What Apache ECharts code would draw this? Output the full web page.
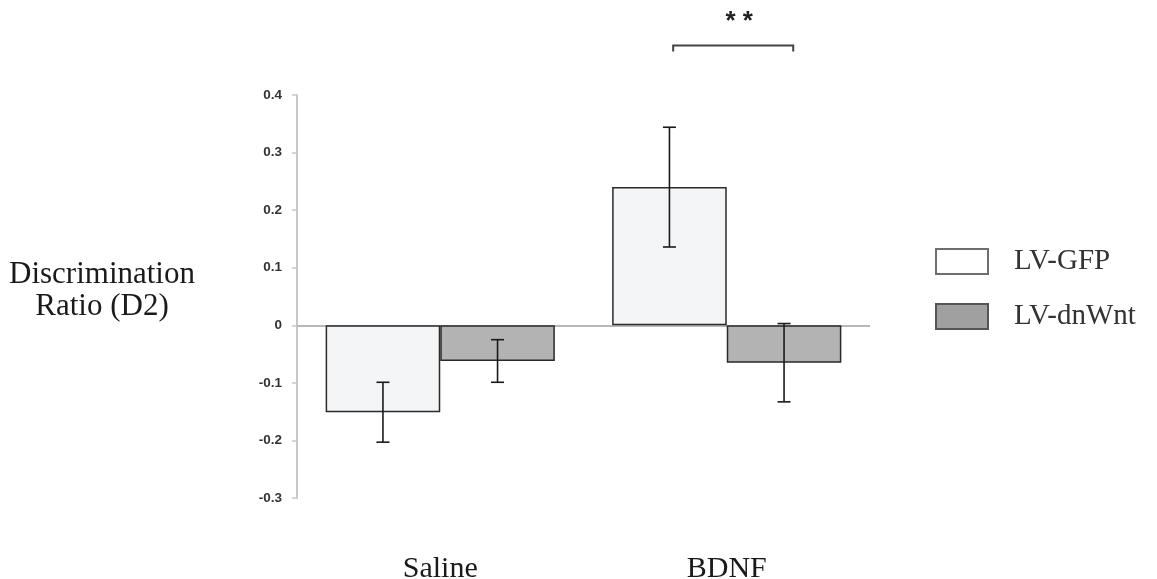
<!DOCTYPE html>
<html>
<head>
<meta charset="utf-8">
<script src="https://cdn.jsdelivr.net/npm/echarts@6/dist/echarts.min.js"></script>
<style>
html,body{margin:0;padding:0;background:#fff;}
#chart{width:1157px;height:579px;}
</style>
</head>
<body>
<div id="chart"></div>
<script>
const categories = ['Saline', 'BDNF'];
const seriesNames = ['LV-GFP', 'LV-dnWnt'];
const gfpValues = [-0.151, 0.240];
const gfpErrors = [0.052, 0.104];
const dnwntValues = [-0.062, -0.065];
const dnwntErrors = [0.037, 0.068];
const yTicks = { min: -0.3, max: 0.4, interval: 0.1 };
const yAxisTitle = ['Discrimination', 'Ratio (D2)'];
const significance = { category: 'BDNF', text: '* *', level: 0.486 };

const chart = echarts.init(document.getElementById('chart'), null, { renderer: 'canvas' });

function errorData(vals, errs) {
  return vals.map((v, i) => [i, v - errs[i], v + errs[i]]);
}

function makeErrorRender(side) {
  return function (params, api) {
    const catW = api.size([1, 0])[0];
    const offset = side * 0.2 * catW;
    const x = api.coord([api.value(0), 0])[0] + offset;
    const lo = api.coord([api.value(0), api.value(1)])[1];
    const hi = api.coord([api.value(0), api.value(2)])[1];
    const cap = 6.5;
    const style = { stroke: '#1a1a1a', lineWidth: 1.6 };
    return {
      type: 'group',
      children: [
        { type: 'line', shape: { x1: x, y1: lo, x2: x, y2: hi }, style },
        { type: 'line', shape: { x1: x - cap, y1: lo, x2: x + cap, y2: lo }, style },
        { type: 'line', shape: { x1: x - cap, y1: hi, x2: x + cap, y2: hi }, style }
      ]
    };
  };
}

const serif = '"Liberation Serif", "Times New Roman", serif';

const option = {
  animation: false,
  backgroundColor: '#ffffff',
  grid: { left: 297, top: 95, width: 573, height: 403, containLabel: false, outerBoundsMode: 'none' },
  legend: {
    orient: 'vertical',
    left: 930,
    top: 242,
    itemWidth: 52,
    itemHeight: 25,
    itemGap: 26,
    textStyle: { fontFamily: serif, fontSize: 29, color: '#333', padding: [4, 0, 0, 21] },
    data: [
      { name: 'LV-GFP', icon: 'rect', itemStyle: { color: '#ffffff', borderColor: '#6e6e6e', borderWidth: 2 } },
      { name: 'LV-dnWnt', icon: 'rect', itemStyle: { color: '#a0a0a0', borderColor: '#555', borderWidth: 2 } }
    ]
  },
  xAxis: {
    type: 'category',
    data: categories,
    axisLine: { show: false, onZero: false },
    axisTick: { show: false },
    axisLabel: { fontFamily: serif, fontSize: 30, color: '#1a1a1a', margin: 56 },
    splitLine: { show: false }
  },
  yAxis: {
    type: 'value',
    min: yTicks.min,
    max: yTicks.max,
    interval: yTicks.interval,
    axisLine: { show: true, lineStyle: { color: '#c8c8c8', width: 2 } },
    axisTick: { show: true, length: 5, lineStyle: { color: '#c8c8c8', width: 1.5 } },
    splitLine: { show: false },
    axisLabel: {
      fontFamily: '"Liberation Sans", Arial, sans-serif',
      fontSize: 13.5,
      fontWeight: 'bold',
      color: '#333',
      margin: 15,
      formatter: v => {
        const r = Math.round(v * 10) / 10;
        return r === 0 ? '0' : r.toFixed(1);
      }
    }
  },
  series: [
    {
      name: 'LV-GFP',
      type: 'bar',
      data: gfpValues,
      barGap: '0%',
      barCategoryGap: '20%',
      itemStyle: { color: '#f4f5f7', borderColor: '#2a2a2a', borderWidth: 1.5 },
      z: 2,
      markLine: {
        silent: true,
        symbol: ['none', 'none'],
        label: { show: false },
        lineStyle: { color: '#b8b8b8', width: 2, type: 'solid' },
        data: [{ yAxis: 0 }],
        z: 1
      }
    },
    {
      name: 'LV-dnWnt',
      type: 'bar',
      data: dnwntValues,
      barGap: '0%',
      barCategoryGap: '20%',
      itemStyle: { color: '#b3b3b3', borderColor: '#2a2a2a', borderWidth: 1.5 },
      z: 2
    },
    {
      type: 'custom',
      name: 'err-gfp',
      data: errorData(gfpValues, gfpErrors),
      renderItem: makeErrorRender(-1),
      encode: { x: 0, y: [1, 2] },
      z: 5,
      silent: true
    },
    {
      type: 'custom',
      name: 'err-dnwnt',
      data: errorData(dnwntValues, dnwntErrors),
      renderItem: makeErrorRender(1),
      encode: { x: 0, y: [1, 2] },
      z: 5,
      silent: true
    }
  ]
};

chart.setOption(option);

// Annotations: y-axis title and significance bracket
const catIdx = categories.indexOf(significance.category);
const center = chart.convertToPixel({ gridIndex: 0 }, [catIdx, 0]);
const catW = chart.convertToPixel({ xAxisIndex: 0 }, 1) - chart.convertToPixel({ xAxisIndex: 0 }, 0);
const yTop = chart.convertToPixel({ yAxisIndex: 0 }, significance.level);
const x1 = center[0] - 0.187 * catW;
const x2 = center[0] + 0.232 * catW;

chart.setOption({
  graphic: [
    {
      type: 'text',
      x: 102,
      y: 259,
      style: {
        text: yAxisTitle.join('\n'),
        fontFamily: serif,
        fontSize: 31,
        lineHeight: 32,
        fill: '#1a1a1a',
        align: 'center',
        verticalAlign: 'top'
      }
    },
    {
      type: 'polyline',
      shape: { points: [[x1, yTop + 6], [x1, yTop], [x2, yTop], [x2, yTop + 6]] },
      style: { stroke: '#444', lineWidth: 2, fill: null }
    },
    {
      type: 'text',
      x: (x1 + x2) / 2 + 6,
      y: yTop - 24,
      style: {
        text: significance.text,
        fontFamily: '"Liberation Sans", Arial, sans-serif',
        fontSize: 26,
        fontWeight: 'bold',
        fill: '#222',
        align: 'center',
        verticalAlign: 'middle'
      }
    }
  ]
});
</script>
</body>
</html>
